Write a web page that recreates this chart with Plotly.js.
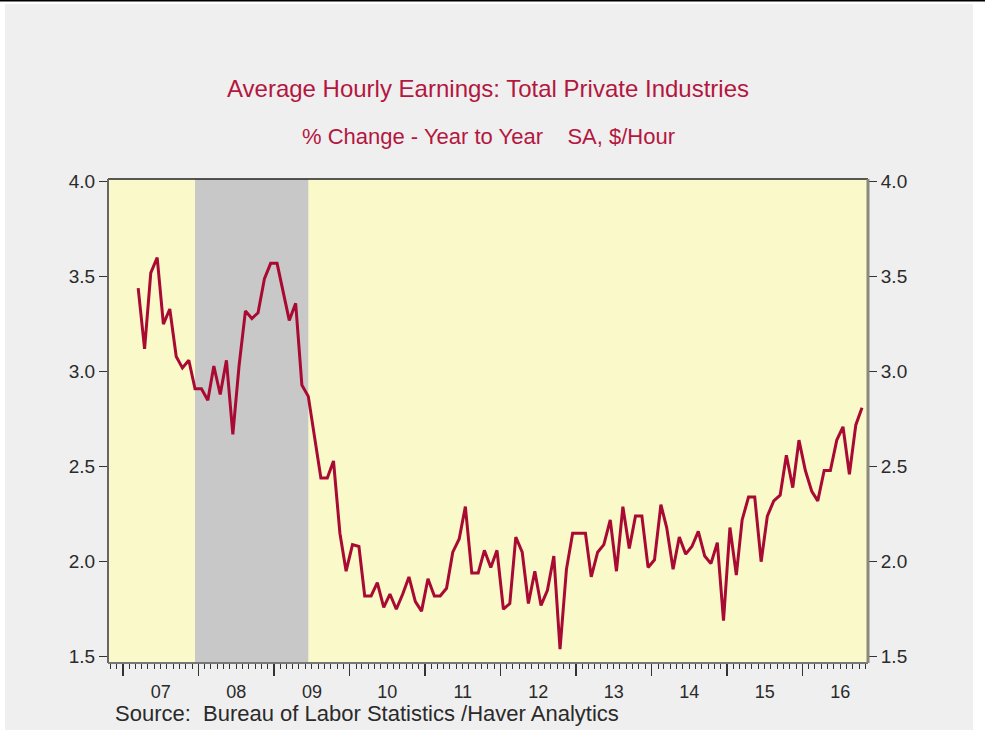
<!DOCTYPE html>
<html><head><meta charset="utf-8">
<script src="https://cdn.plot.ly/plotly-3.0.1.min.js"></script>
<style>body{margin:0;padding:0;background:#fff}#chart{width:985px;height:735px}</style>
</head><body><div id="chart"></div>
<script>
// First observation month of the series
const startYear = 2007;
const startMonth = 3; // March 2007
// Average Hourly Earnings, total private, % change year to year (monthly)
const values = [
  3.44, 3.12, 3.52, 3.60, 3.25, 3.33, 3.08, 3.02, 3.06, 2.91,            // 2007 Mar-Dec
  2.91, 2.85, 3.03, 2.88, 3.06, 2.67, 3.03, 3.32, 3.28, 3.31, 3.49, 3.57, // 2008
  3.57, 3.42, 3.27, 3.36, 2.93, 2.87, 2.65, 2.44, 2.44, 2.53, 2.15, 1.95, // 2009
  2.09, 2.08, 1.82, 1.82, 1.89, 1.76, 1.83, 1.75, 1.83, 1.92, 1.79, 1.74, // 2010
  1.91, 1.82, 1.82, 1.86, 2.05, 2.12, 2.29, 1.94, 1.94, 2.06, 1.97, 2.06, // 2011
  1.75, 1.78, 2.13, 2.05, 1.78, 1.95, 1.77, 1.85, 2.03, 1.54, 1.96, 2.15, // 2012
  2.15, 2.15, 1.92, 2.05, 2.09, 2.22, 1.95, 2.29, 2.07, 2.24, 2.24, 1.97, // 2013
  2.01, 2.30, 2.18, 1.96, 2.13, 2.04, 2.08, 2.16, 2.03, 1.99, 2.10, 1.69, // 2014
  2.18, 1.93, 2.22, 2.34, 2.34, 2.00, 2.24, 2.32, 2.35, 2.56, 2.39, 2.64, // 2015
  2.48, 2.37, 2.32, 2.48, 2.48, 2.64, 2.71, 2.46, 2.72, 2.81              // 2016 Jan-Oct
];
const recessionStart = '2007-12-15';
const recessionEnd = '2009-06-15';
const titleText = 'Average Hourly Earnings: Total Private Industries';
const subtitleText = '% Change - Year to Year\u00a0\u00a0\u00a0\u00a0SA, $/Hour';
const sourceText = 'Source:\u00a0\u00a0Bureau of Labor Statistics /Haver Analytics';

const dates = values.map((v, i) => {
  const m = startMonth - 1 + i;
  const y = startYear + Math.floor(m / 12);
  const mm = (m % 12) + 1;
  return y + '-' + String(mm).padStart(2, '0') + '-15';
});

const W = 985, H = 735, L = 108, R = 868, T = 179, B = 663;
const px = x => (x - L) / (R - L);
const py = y => (B - y) / (B - T);

const font = '"Liberation Sans", Arial, sans-serif';
const red = '#b3173f';
const yr = [1.467, 4.014];

const yCommon = {
  range: yr, tick0: 1.5, dtick: 0.5, tickformat: '.1f',
  ticks: 'outside', ticklen: 8, tickwidth: 1.5, tickcolor: '#333',
  showgrid: false, zeroline: false, showline: false,
  tickfont: {family: font, size: 19, color: '#2a2a2a'}, fixedrange: true
};

const traces = [
  {x: dates, y: values, type: 'scatter', mode: 'lines',
   line: {color: '#a80a33', width: 3}, hoverinfo: 'skip', showlegend: false},
  {x: dates, y: values, type: 'scatter', mode: 'lines', yaxis: 'y2',
   opacity: 0, line: {width: 0}, hoverinfo: 'skip', showlegend: false}
];

const white = {fillcolor: '#ffffff', line: {width: 0}, layer: 'above', type: 'rect', xref: 'paper', yref: 'paper'};

const layout = {
  width: W, height: H,
  margin: {l: L, r: W - R, t: T, b: H - B, pad: 0},
  paper_bgcolor: '#efefef', plot_bgcolor: '#f9f9c9',
  showlegend: false,
  title: {text: titleText, font: {family: font, size: 24, color: red},
          x: 0.5, xref: 'paper', xanchor: 'center', y: 1 - 89 / H, yref: 'container', yanchor: 'middle'},
  xaxis: {
    type: 'date', range: ['2006-10-20', '2016-11-13'],
    tick0: '2007-01-01', dtick: 'M12', ticklabelmode: 'period', tickformat: '%y',
    ticks: 'outside', ticklen: 12, tickwidth: 1.5, tickcolor: '#333',
    minor: {dtick: 'M1', ticks: 'outside', ticklen: 5, tickwidth: 1, tickcolor: '#333', showgrid: false},
    showgrid: false, zeroline: false, showline: false,
    tickfont: {family: font, size: 18, color: '#2a2a2a'}, fixedrange: true
  },
  yaxis: Object.assign({side: 'left'}, yCommon),
  yaxis2: Object.assign({side: 'right', overlaying: 'y'}, yCommon),
  shapes: [
    // white margins around the gray frame
    Object.assign({x0: px(973), x1: px(985), y0: py(735), y1: py(0)}, white),
    Object.assign({x0: px(0), x1: px(5), y0: py(735), y1: py(0)}, white),
    Object.assign({x0: px(0), x1: px(985), y0: py(735), y1: py(730)}, white),
    Object.assign({x0: px(0), x1: px(985), y0: py(4), y1: py(0)}, white),
    // top black rule
    {type: 'rect', xref: 'paper', yref: 'paper', x0: px(0), x1: px(985), y0: py(1.6), y1: py(0),
     fillcolor: '#000000', line: {width: 0}, layer: 'above'},
    // recession band
    {type: 'rect', xref: 'x', yref: 'paper', x0: recessionStart, x1: recessionEnd, y0: 0, y1: 1,
     fillcolor: '#c8c8c8', line: {width: 0}, layer: 'below'},
    // plot borders
    {type: 'line', xref: 'paper', yref: 'paper', x0: 0, x1: 1, y0: 1, y1: 1, line: {color: '#222', width: 1.5}},
    {type: 'line', xref: 'paper', yref: 'paper', x0: 0, x1: 0, y0: 0, y1: 1, line: {color: '#666', width: 2}},
    {type: 'line', xref: 'paper', yref: 'paper', x0: 0, x1: 1, y0: 0, y1: 0, line: {color: '#777', width: 2}},
    {type: 'line', xref: 'paper', yref: 'paper', x0: 1, x1: 1, y0: 0, y1: 1, line: {color: '#8a8a7c', width: 3}}
  ],
  annotations: [
    {text: subtitleText, xref: 'paper', yref: 'paper', x: 0.5, y: py(137), xanchor: 'center', yanchor: 'middle',
     showarrow: false, font: {family: font, size: 22, color: red}},
    {text: sourceText, xref: 'paper', yref: 'paper', x: px(113), y: py(713), xanchor: 'left', yanchor: 'middle',
     showarrow: false, font: {family: font, size: 22, color: '#2a2a2a'}}
  ]
};

Plotly.newPlot('chart', traces, layout, {displayModeBar: false, staticPlot: true});
</script>
</body></html>
